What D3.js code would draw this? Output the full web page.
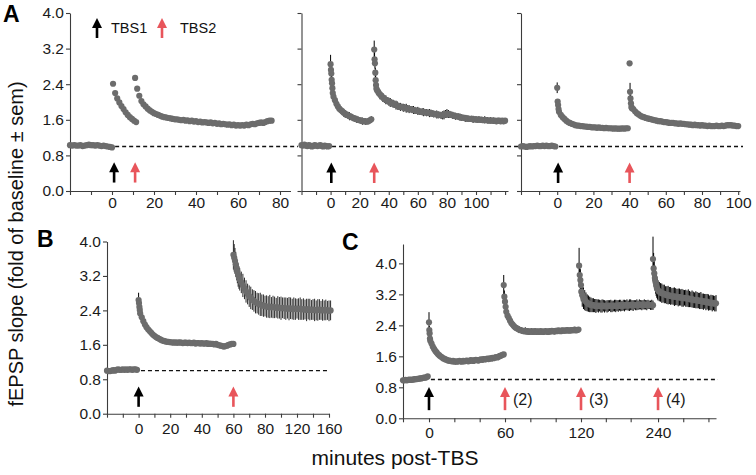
<!DOCTYPE html>
<html><head><meta charset="utf-8">
<script src="https://cdn.jsdelivr.net/npm/d3@7"></script>
<style>
body{margin:0;background:#fff}
svg{display:block}
text{font-family:"Liberation Sans",Arial,Helvetica,sans-serif}
</style></head>
<body><svg id="chart" width="756" height="475"></svg>
<script>
// ---------------- DATA (fold of baseline, minutes post-TBS) ----------------
// Panel A1: TBS1 at 0, TBS2 at 10
const A1_base = [1.03,1.02,1.03,1.02,1.02,1.03,1.01,1.02,1.03,1.04,1.03,1.03,1.02,1.03,1.02,1.01,1.02,1.01,1.00,0.99,0.98];
const A1_s1 = [2.41,2.20,2.08,1.99,1.91,1.84,1.77,1.71,1.66,1.62,1.58,1.55];
const A1_s2 = [2.54,2.30,2.14,2.02,1.95,1.90,1.85,1.81,1.78,1.75,1.73,1.71,1.69,1.67,1.66,1.65,1.64,1.63,1.62,1.61,
  1.61,1.60,1.59,1.60,1.58,1.59,1.57,1.58,1.56,1.57,1.55,1.56,1.54,1.55,1.54,1.53,1.54,1.52,1.53,1.51,
  1.52,1.50,1.51,1.50,1.49,1.50,1.48,1.49,1.47,1.48,1.47,1.48,1.47,1.49,1.48,1.50,1.51,1.50,1.52,1.53,
  1.54,1.53,1.55,1.57,1.58,1.58];
const A1_arrows = [1, 11];

// Panel A2: TBS1 at 0, TBS2 at 30
const A2_base = [1.03,1.02,1.04,1.02,1.01,1.03,1.02,1.00,1.01,1.03,1.02,1.01,1.02,1.03,1.01,1.00,1.02,1.01,1.00,1.01];
const A2_s1_pk = [2.85,2.72,2.64,2.50,2.42,2.31,2.20];
const A2_s1_pk_sem = [0.21,0.14,0.12,0.10,0.10,0.09,0.09];
const A2_s1 = [2.12,2.04,1.96,1.90,1.85,1.82,1.79,1.76,1.74,1.71,1.70,1.68,1.67,1.65,1.64,1.62,1.61,1.60,1.59,1.58,
  1.57,1.57,1.56,1.56,1.57,1.59,1.61];
const A2_s1_sem = [0.09,0.08,0.09,0.08,0.07,0.08,0.07,0.09,0.08,0.07,0.08,0.09,0.07,0.08,0.06,0.07,0.08,0.07,0.06,0.07,
  0.08,0.06,0.07,0.06,0.07,0.06,0.07];
const A2_s2_pk = [3.18,2.96,2.87,2.66,2.49,2.38,2.30];
const A2_s2_pk_sem = [0.20,0.15,0.12,0.11,0.10,0.10,0.09];
const A2_s2 = [2.26,2.21,2.17,2.13,2.10,2.07,2.05,2.03,2.01,1.99,1.98,1.96,1.95,1.93,1.92,1.90,1.89,1.89,1.87,1.87,
  1.86,1.85,1.84,1.84,1.83,1.82,1.81,1.80,1.80,1.79,1.78,1.78,1.77,1.77,1.76,1.76,1.75,1.75,1.74,1.73,
  1.73,1.72,1.71,1.71,1.70,1.70,1.71,1.73,1.74,1.73,1.72,1.71,1.70,1.69,1.68,1.68,1.67,1.66,1.65,1.65,
  1.64,1.63,1.63,1.62,1.62,1.62,1.61,1.61,1.61,1.60,1.61,1.60,1.60,1.59,1.60,1.59,1.59,1.58,1.59,1.58,
  1.58,1.58,1.57,1.58,1.58,1.57,1.58,1.57,1.58];
const A2_s2_sem = [0.11,0.10,0.11,0.09,0.10,0.09,0.10,0.08,0.09,0.10,0.08,0.09,0.08,0.10,0.09,0.08,0.09,0.07,0.09,0.08,
  0.10,0.08,0.09,0.07,0.08,0.09,0.08,0.07,0.09,0.08,0.07,0.08,0.09,0.07,0.08,0.07,0.09,0.08,0.07,0.08,
  0.07,0.09,0.08,0.07,0.08,0.09,0.10,0.09,0.10,0.09,0.08,0.07,0.08,0.07,0.08,0.06,0.07,0.08,0.07,0.06,
  0.07,0.08,0.06,0.07,0.06,0.07,0.08,0.06,0.07,0.06,0.07,0.06,0.07,0.06,0.08,0.06,0.07,0.06,0.07,0.06,
  0.07,0.06,0.07,0.06,0.06,0.07,0.06,0.07,0.06];
const A2_arrows = [0.5, 30];

// Panel A3: TBS1 at 0, TBS2 at 40
const A3_base = [1.00,1.01,1.00,0.99,1.00,1.01,1.00,1.01,1.01,1.02,1.01,1.01,1.02,1.01,1.02,1.01,1.01,1.02,1.01,1.00];
const A3_s1_pk = [2.32,2.01,1.93,1.84];
const A3_s1_pk_sem = [0.12,0.05,0.04,0.04];
const A3_s1 = [1.78,1.71,1.66,1.62,1.58,1.55,1.53,1.51,1.50,1.48,1.47,1.47,1.46,1.46,1.45,1.45,1.44,1.44,1.43,1.43,
  1.43,1.42,1.43,1.42,1.42,1.41,1.42,1.41,1.41,1.41,1.40,1.41,1.40,1.40,1.40,1.41,1.40,1.41,1.41];
const A3_s2_pk = [2.87,2.23,2.08,1.97,1.89,1.86];
const A3_s2_pk_sem = [0.05,0.20,0.08,0.05,0.04,0.04];
const A3_s2 = [1.84,1.79,1.75,1.72,1.69,1.67,1.66,1.64,1.63,1.62,1.61,1.60,1.59,1.58,1.57,1.57,1.56,1.55,1.55,1.54,
  1.53,1.53,1.53,1.52,1.52,1.51,1.52,1.51,1.51,1.50,1.50,1.49,1.49,1.48,1.49,1.48,1.48,1.47,1.48,1.47,
  1.47,1.46,1.47,1.46,1.46,1.46,1.47,1.46,1.46,1.47,1.46,1.47,1.48,1.48,1.48,1.47,1.47,1.46,1.46];
const A3_arrows = [0.5, 40];

// Panel B: TBS1 at 0, TBS2 at 60
const B_base = [1.00,0.99,0.99,1.00,1.01,1.00,1.02,1.03,1.02,1.02,1.03,1.02,1.03,1.02,1.03,1.03,1.02,1.03,1.03,1.02];
const B_s1_pk = [2.64,2.57,2.48,2.41];
const B_s1_pk_sem = [0.17,0.10,0.08,0.06];
const B_s1 = [2.33,2.24,2.15,2.07,2.01,1.96,1.92,1.88,1.84,1.81,1.78,1.76,1.74,1.72,1.70,1.69,1.68,1.67,1.67,1.66,
  1.66,1.65,1.66,1.65,1.65,1.66,1.65,1.64,1.65,1.65,1.64,1.65,1.64,1.64,1.65,1.63,1.64,1.64,1.63,1.64,
  1.63,1.63,1.64,1.62,1.63,1.62,1.62,1.61,1.62,1.60,1.59,1.58,1.57,1.56,1.57,1.58,1.60,1.61,1.62,1.62];
const B_s2_pk = [3.69,3.62,3.55,3.47,3.38,3.30,3.22,3.16];
const B_s2_pk_sem = [0.34,0.32,0.30,0.29,0.28,0.27,0.27,0.26];
const B_s2 = [3.12,3.05,2.98,2.91,2.84,2.78,2.73,2.69,2.65,2.62,2.59,2.57,2.55,2.54,2.52,2.51];
const B_s2_sem = [0.26,0.25,0.27,0.25,0.26,0.24,0.25,0.26,0.24,0.25,0.26,0.24,0.25,0.27,0.25,0.26];
const B_s2b = [2.50,2.49,2.48,2.49,2.47,2.48,2.47,2.46,2.47,2.46,2.45,2.46,2.45,2.44,2.45,2.44,2.45,2.43,2.44,2.43,
  2.44,2.43,2.44,2.42,2.43,2.42,2.41,2.43,2.42,2.41,2.42,2.41,2.40,2.41,2.42,2.40,2.41,2.40,2.41,2.40,
  2.39,2.40];
const B_s2b_sem = [0.24,0.26,0.25,0.27,0.24,0.26,0.25,0.23,0.26,0.25,0.27,0.24,0.25,0.26,0.24,0.27,0.25,0.24,0.26,0.25,
  0.23,0.25,0.26,0.24,0.25,0.23,0.26,0.24,0.25,0.23,0.24,0.26,0.23,0.25,0.24,0.22,0.25,0.23,0.24,0.22,
  0.24,0.23];
const B_arrows = [0, 60];

// Panel C: TBS at 0, 60, 120, 240
const C_base = [0.98,0.98,0.99,0.98,0.99,1.00,0.99,1.00,1.00,1.01,1.01,1.02,1.02,1.03,1.03,1.04,1.05,1.05,1.06,1.08];
const C_s1_pk = [2.48,2.28,2.19,2.06];
const C_s1_pk_sem = [0.26,0.10,0.08,0.06];
const C_s1 = [2.00,1.93,1.85,1.79,1.74,1.70,1.66,1.63,1.60,1.58,1.55,1.54,1.52,1.51,1.49,1.49,1.48,1.47,1.48,1.46,
  1.47,1.46,1.47,1.48,1.47,1.46,1.48,1.47,1.48,1.49,1.47,1.48,1.50,1.49,1.48,1.50,1.51,1.50,1.49,1.51,
  1.52,1.51,1.53,1.52,1.53,1.54,1.53,1.55,1.54,1.56,1.55,1.57,1.58,1.57,1.59,1.61,1.62,1.64,1.65];
const C_s2_pk = [3.44,3.14,3.01,2.88,2.75];
const C_s2_pk_sem = [0.26,0.16,0.13,0.11,0.10];
const C_s2 = [2.65,2.59,2.52,2.46,2.42,2.38,2.35,2.33,2.31,2.29,2.28,2.27,2.26,2.25,2.26,2.24,2.25,2.23,2.24,2.25,
  2.23,2.24,2.25,2.23,2.24,2.23,2.25,2.24,2.23,2.24,2.25,2.24,2.23,2.25,2.24,2.26,2.25,2.24,2.26,2.25,
  2.27,2.26,2.25,2.27,2.26,2.27,2.26,2.28,2.27,2.26,2.28,2.27,2.28,2.29,2.27,2.28,2.29];
const C_s2_sem = [0.10,0.09,0.09,0.08,0.09,0.08,0.08,0.07,0.08,0.09,0.07,0.08,0.07,0.08,0.09,0.07,0.08,0.07,0.06,0.08,
  0.07,0.08,0.06,0.07,0.08,0.07,0.06,0.07,0.08,0.06,0.07,0.06,0.08,0.07,0.06,0.07,0.06,0.07,0.06,0.07,
  0.06,0.07,0.06,0.07,0.06,0.05,0.06,0.07,0.06,0.05,0.06,0.05,0.06,0.07,0.06,0.05,0.06];
const C_s3_pk = [3.94,3.70,3.57,3.44,3.27];
const C_s3_pk_sem = [0.46,0.30,0.28,0.26,0.25];
const C_s3 = [3.18,3.10,3.05,3.01,2.98,2.96,2.94,2.93,2.92,2.92,2.91,2.90,2.91,2.90,2.91,2.89,2.90,2.91,2.89,2.90,
  2.89,2.90,2.91,2.90,2.89,2.90,2.91,2.90,2.91,2.90,2.92,2.91,2.90,2.92,2.91,2.92,2.93,2.91,2.92,2.93,
  2.92,2.91,2.93,2.92,2.93,2.92,2.94,2.93,2.92,2.93,2.94,2.93,2.92,2.94,2.93,2.92,2.93,2.92];
const C_s3_sem = [0.30,0.28,0.26,0.24,0.22,0.21,0.20,0.19,0.18,0.18,0.17,0.18,0.16,0.17,0.15,0.16,0.17,0.15,0.16,0.14,
  0.16,0.15,0.14,0.16,0.15,0.14,0.15,0.16,0.14,0.15,0.14,0.15,0.13,0.14,0.15,0.13,0.14,0.13,0.15,0.14,
  0.13,0.14,0.12,0.13,0.14,0.12,0.13,0.12,0.13,0.12,0.13,0.12,0.13,0.12,0.11,0.12,0.13,0.12];
const C_s4_pk = [4.11,3.87,3.74,3.62,3.52,3.44,3.38,3.33];
const C_s4_pk_sem = [0.58,0.40,0.35,0.32,0.30,0.28,0.27,0.26];
const C_s4 = [3.30,3.27,3.25,3.23,3.22,3.21,3.19,3.18,3.18,3.17,3.16,3.15,3.15,3.14,3.14,3.13,3.12,3.13,3.12,3.11,
  3.10,3.11,3.10,3.09,3.10,3.08,3.07,3.08,3.06,3.05,3.06,3.05,3.04,3.03,3.04,3.02,3.01,3.02,3.00,3.01,
  2.99,2.98,2.99,2.97,2.98,2.96,2.97];
const C_s4_sem = [0.26,0.25,0.24,0.25,0.23,0.24,0.22,0.23,0.24,0.22,0.23,0.21,0.22,0.24,0.22,0.21,0.23,0.22,0.21,0.23,
  0.22,0.20,0.22,0.21,0.23,0.21,0.20,0.22,0.21,0.20,0.22,0.21,0.20,0.21,0.22,0.20,0.21,0.19,0.21,0.20,
  0.21,0.19,0.20,0.21,0.19,0.20,0.21];
const C_arrows = [0, 60, 120, 240];
const C_arrowLabels = ["", "(2)", "(3)", "(4)"];

// Tick values / labels
const yTicks = [0, 0.8, 1.6, 2.4, 3.2, 4.0];
const A1_xTicks = [-20,-10,0,10,20,30,40,50,60,70,80];
const A1_xLabels = [0,20,40,60,80];
const A2_xTicks = [-20,-10,0,10,20,30,40,50,60,70,80,90,100,110,120];
const A2_xLabels = [0,20,40,60,80,100];
const A3_xTicks = [-20,-10,0,10,20,30,40,50,60,70,80,90,100];
const A3_xLabels = [0,20,40,60,80,100];
const B_xTicks = [-20,-10,0,10,20,30,40,50,60,70,80,100,120,140,160];
const B_xLabels = [0,20,40,60,80,120,160];
const C_xTicks = [-20,0,20,40,60,80,100,120,160,200,240,260,280];
const C_xLabels = [0,60,120,240];

// ---------------- DRAWING ----------------
const svg = d3.select("#chart");
const GRAY = "#6c6c6c", RED = "#e8555b", AX = "#3c3c3c";

function seg(start, step, values, sem, barColor) {
  return values.map((v, i) => ({t: start + i * step, v: v, s: sem ? (sem[i] || 0) : 0, c: barColor || "#000"}));
}

function arrow(g, x, yTip, yBase, color) {
  const hw = 5, hh = 10;
  g.append("line").attr("x1", x).attr("x2", x).attr("y1", yBase).attr("y2", yTip + hh - 1)
    .attr("stroke", color).attr("stroke-width", 2.6);
  g.append("path").attr("d", `M${x},${yTip} L${x - hw},${yTip + hh} L${x + hw},${yTip + hh} Z`).attr("fill", color);
}

function panel(p) {
  const x = d3.scaleLinear().domain(p.xDomain).range(p.xRange);
  const y = d3.scaleLinear().domain(p.yDomain).range(p.yRange);
  const g = svg.append("g");

  const xa = d3.axisBottom(x).tickValues(p.xTicks).tickSize(4).tickSizeOuter(0).tickPadding(p.xPad)
    .tickFormat(d => p.xLabels.includes(d) ? String(d) : "");
  const gx = g.append("g").attr("transform", `translate(0,${p.yRange[0]})`).call(xa);
  const ya = d3.axisLeft(y).tickValues(yTicks).tickSize(4).tickSizeOuter(0).tickPadding(2)
    .tickFormat(d => p.yLabels ? d3.format(".1f")(d) : "");
  const gy = g.append("g").attr("transform", `translate(${p.xRange[0]},0)`).call(ya);
  [gx, gy].forEach(a => {
    a.select(".domain").attr("stroke", AX).attr("stroke-width", 1.1);
    a.selectAll(".tick line").attr("stroke", AX).attr("stroke-width", 1.1);
    a.selectAll("text").attr("font-size", "15.5px").attr("fill", "#1a1a1a")
      .attr("font-family", '"Liberation Sans",Arial,sans-serif');
  });

  // baseline reference
  g.append("line").attr("x1", x(p.dashFrom)).attr("x2", p.dashEnd)
    .attr("y1", y(1)).attr("y2", y(1))
    .attr("stroke", "#111").attr("stroke-width", 1.4).attr("stroke-dasharray", "4,3");

  const pts = [].concat(...p.series);
  g.append("g").selectAll("line").data(pts.filter(d => d.s > 0)).join("line")
    .attr("x1", d => x(d.t)).attr("x2", d => x(d.t))
    .attr("y1", d => y(d.v - d.s)).attr("y2", d => y(d.v + d.s))
    .attr("stroke", d => d.c).attr("stroke-width", 1);
  g.append("g").selectAll("circle").data(pts).join("circle")
    .attr("cx", d => x(d.t)).attr("cy", d => y(d.v)).attr("r", 3.1).attr("fill", GRAY);

  p.arrows.forEach((t, i) => {
    arrow(g, x(t), y(p.arrowY[1]), y(p.arrowY[0]), i === 0 ? "#000" : RED);
    if (p.arrowLabels && p.arrowLabels[i]) {
      g.append("text").attr("x", x(t) + 8).attr("y", y(p.arrowY[0]) - 5)
        .attr("font-size", "16px").attr("fill", "#1a1a1a").text(p.arrowLabels[i]);
    }
  });
  return {x, y, g};
}

const yA = {yDomain: [0, 4], yRange: [191, 13]};
panel(Object.assign({}, yA, {
  xDomain: [-20, 85], xRange: [70, 290.5], xTicks: A1_xTicks, xLabels: A1_xLabels, xPad: 2, yLabels: true,
  dashFrom: 1.5, dashEnd: 298, arrows: A1_arrows, arrowY: [0.19, 0.645],
  series: [seg(-20, 1, A1_base), seg(0.5, 1, A1_s1), seg(11, 1, A1_s2)]
}));
panel(Object.assign({}, yA, {
  xDomain: [-20, 122], xRange: [301.5, 508], xTicks: A2_xTicks, xLabels: A2_xLabels, xPad: 2, yLabels: false,
  dashFrom: 1, dashEnd: 518, arrows: A2_arrows, arrowY: [0.18, 0.64],
  series: [seg(-20, 1, A2_base), seg(0, 0.25, A2_s1_pk, A2_s1_pk_sem), seg(2, 1, A2_s1, A2_s1_sem),
           seg(30, 0.25, A2_s2_pk, A2_s2_pk_sem), seg(32, 1, A2_s2, A2_s2_sem)]
}));
panel(Object.assign({}, yA, {
  xDomain: [-20, 101], xRange: [521, 740], xTicks: A3_xTicks, xLabels: A3_xLabels, xPad: 2, yLabels: false,
  dashFrom: 1, dashEnd: 743, arrows: A3_arrows, arrowY: [0.18, 0.64],
  series: [seg(-20, 1, A3_base), seg(0, 0.25, A3_s1_pk, A3_s1_pk_sem), seg(1, 1, A3_s1),
           seg(40, 0.25, A3_s2_pk, A3_s2_pk_sem), seg(42, 1, A3_s2)]
}));
panel({
  yDomain: [0, 4], yRange: [413.7, 241.5],
  xDomain: [-20, 80, 160], xRange: [107, 265, 329], xTicks: B_xTicks, xLabels: B_xLabels, xPad: 5, yLabels: true,
  dashFrom: 1.5, dashEnd: 328, arrows: B_arrows, arrowY: [0.16, 0.63],
  series: [seg(-20, 1, B_base), seg(0, 0.25, B_s1_pk, B_s1_pk_sem), seg(1, 1, B_s1),
           seg(60, 0.5, B_s2_pk, B_s2_pk_sem, "#2a2a2a"), seg(64, 1, B_s2, B_s2_sem, "#2a2a2a"),
           seg(80, 2, B_s2b, B_s2b_sem, "#2a2a2a")]
});
panel({
  yDomain: [0, 4.5], yRange: [418.3, 244],
  xDomain: [-20, 0, 120, 236, 286], xRange: [403, 429, 581, 653, 716], xTicks: C_xTicks, xLabels: C_xLabels, xPad: 5,
  yLabels: true, dashFrom: 1.5, dashEnd: 718, arrows: C_arrows, arrowLabels: C_arrowLabels, arrowY: [0.21, 0.81],
  series: [seg(-20, 1, C_base), seg(0, 0.25, C_s1_pk, C_s1_pk_sem), seg(1, 1, C_s1),
           seg(59, 0.5, C_s2_pk, C_s2_pk_sem), seg(62, 1, C_s2, C_s2_sem),
           seg(118.5, 0.5, C_s3_pk, C_s3_pk_sem), seg(122, 2, C_s3, C_s3_sem),
           seg(236, 0.5, C_s4_pk, C_s4_pk_sem), seg(240, 1, C_s4, C_s4_sem)]
});

// legend (panel A)
arrow(svg, 97, 18, 38, "#000");
svg.append("text").attr("x", 111).attr("y", 33).attr("font-size", "14.5px").attr("fill", "#111").text("TBS1");
arrow(svg, 162, 18, 38, RED);
svg.append("text").attr("x", 180).attr("y", 33).attr("font-size", "14.5px").attr("fill", "#111").text("TBS2");

// panel letters
[["A", 3, 22], ["B", 37, 247], ["C", 342, 250]].forEach(([t, px, py]) =>
  svg.append("text").attr("x", px).attr("y", py).attr("font-size", "23px").attr("font-weight", "bold")
    .attr("fill", "#000").text(t));

// axis titles
svg.append("text").attr("transform", "translate(23,244) rotate(-90)").attr("text-anchor", "middle")
  .attr("font-size", "20px").attr("fill", "#111").text("fEPSP slope (fold of baseline ± sem)");
svg.append("text").attr("x", 395).attr("y", 465).attr("text-anchor", "middle")
  .attr("font-size", "21px").attr("fill", "#111").text("minutes post-TBS");
</script></body></html>
